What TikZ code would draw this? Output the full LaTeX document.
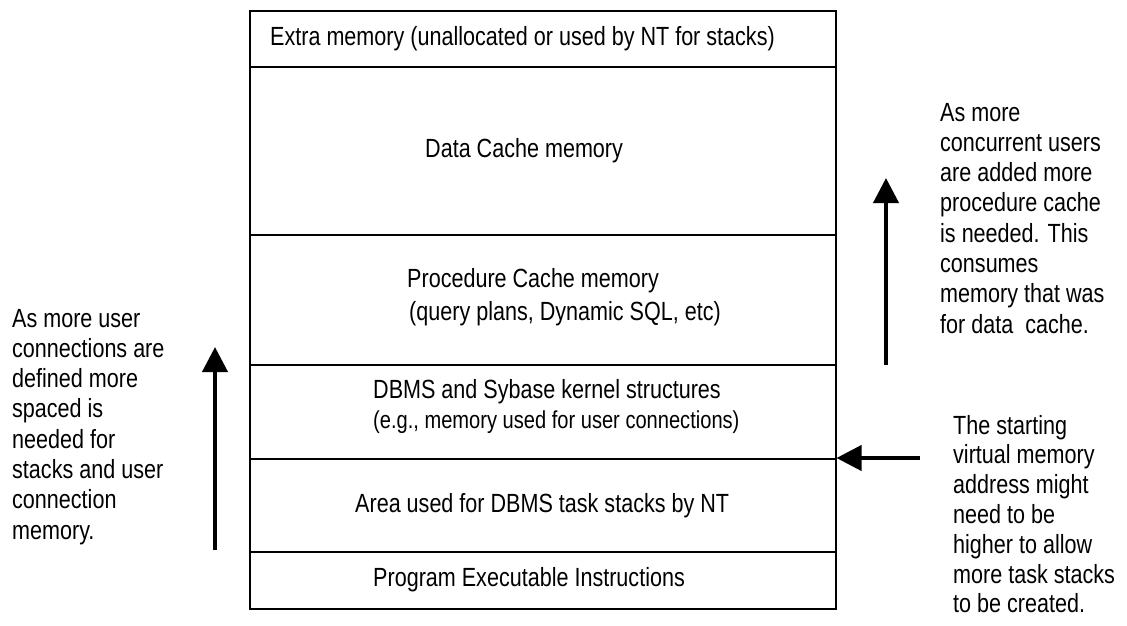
\documentclass[tikz,border=0pt]{standalone}
\usepackage{fontspec}
\setmainfont{Liberation Sans}[FakeStretch=0.82]
\usetikzlibrary{arrows.meta}
\newcommand\myfs{\fontsize{26.3}{30.3}\selectfont}
\tikzset{
  sect/.style={draw, line width=1.5pt, minimum width=586pt, inner sep=0pt, anchor=north west},
  lbl/.style={anchor=base west, inner sep=0pt, font=\myfs},
  bigarrow/.style={line width=4pt, -{Triangle[length=25pt,width=25pt]}}
}
\begin{document}
\begin{tikzpicture}[x=1pt,y=-1pt]
\useasboundingbox (0,0) rectangle (1127,625);
% memory sections
\node[sect, minimum height=56pt]  (extra) at (249,10) {};
\node[sect, minimum height=168pt] (data)  at (249,66) {};
\node[sect, minimum height=130pt] (proc)  at (249,234) {};
\node[sect, minimum height=94pt]  (dbms)  at (249,364) {};
\node[sect, minimum height=93pt]  (area)  at (249,458) {};
\node[sect, minimum height=57pt]  (prog)  at (249,551) {};
% section texts
\node[lbl] (textra) at (270,45) {Extra memory (unallocated or used by NT for stacks)};
\node[lbl] (tdata) at (425,157) {Data Cache memory};
\node[lbl] (tproc1) at (407,287) {Procedure Cache memory};
\node[lbl] (tproc2) at (409,320) {(query plans, Dynamic SQL, etc)};
\node[lbl] (tdbms1) at (373,398) {DBMS and Sybase kernel structures};
\node[lbl, font=\fontsize{24.5}{28}\selectfont] (tdbms2) at (373,428) {(e.g., memory used for user connections)};
\node[lbl] (tarea) at (355,512) {Area used for DBMS task stacks by NT};
\node[lbl] (tprog) at (373,586) {Program Executable Instructions};
% side notes
\node[lbl] (noteL) at (12,327) {\myfs\begin{tabular}[t]{@{}l@{}}As more user\\connections are\\defined more\\spaced is\\needed for\\stacks and user\\connection\\memory.\end{tabular}};
\node[lbl] (noteR) at (940,121) {\myfs\begin{tabular}[t]{@{}l@{}}As more\\concurrent users\\are added more\\procedure cache\\is needed. This\\consumes\\memory that was\\for data\ \ cache.\end{tabular}};
\node[lbl] (noteS) at (953,434) {\fontsize{26.3}{29.8}\selectfont\begin{tabular}[t]{@{}l@{}}The starting\\virtual memory\\address might\\need to be\\higher to allow\\more task stacks\\to be created.\end{tabular}};
% arrows
\coordinate (lA) at (215,550);
\coordinate (lB) at (215,347);
\coordinate (rA) at (886,365);
\coordinate (rB) at (886,178);
\coordinate (sA) at (920,458);
\draw[bigarrow] (lA) -- (lB);
\draw[bigarrow] (rA) -- (rB);
\draw[bigarrow] (sA) -- (area.north east);
\end{tikzpicture}
\end{document}
